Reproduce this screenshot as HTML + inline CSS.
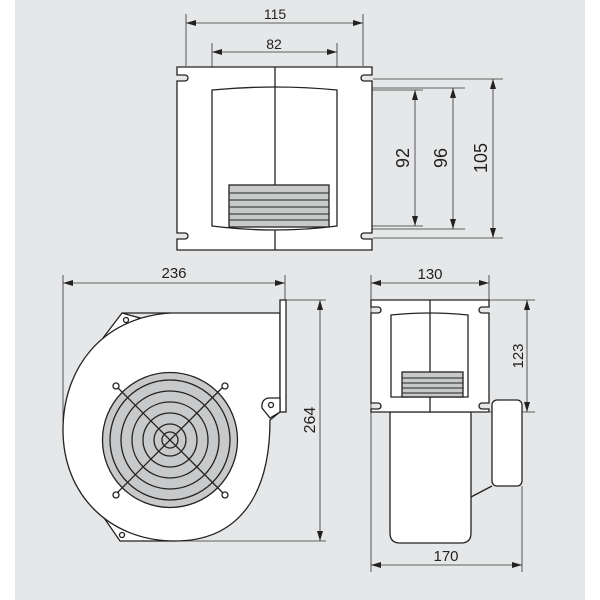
<!DOCTYPE html>
<html><head><style>html,body{margin:0;padding:0;background:#fff}svg{display:block}</style></head>
<body>
<svg width="600" height="600" viewBox="0 0 600 600" xmlns="http://www.w3.org/2000/svg" font-family="Liberation Sans, sans-serif">
<defs>
<marker id="a" viewBox="0 0 10 6" refX="10" refY="3" markerWidth="10" markerHeight="6" orient="auto-start-reverse" markerUnits="userSpaceOnUse"><path d="M0,0 L10,3 L0,6 Z" fill="#222"/></marker>
</defs>
<rect x="15" y="0" width="570" height="600" fill="#e6e7e8"/>
<g stroke="#333" stroke-width="0.8" fill="none">
<line x1="186" y1="14" x2="186" y2="66"/><line x1="363" y1="14" x2="363" y2="66"/>
<line x1="186" y1="23" x2="363" y2="23" marker-start="url(#a)" marker-end="url(#a)"/>
<line x1="212" y1="43" x2="212" y2="90"/><line x1="337" y1="43" x2="337" y2="90"/>
<line x1="212" y1="52" x2="337" y2="52" marker-start="url(#a)" marker-end="url(#a)"/>
<line x1="373" y1="79" x2="503" y2="79"/><line x1="337" y1="88" x2="465" y2="88"/><line x1="337" y1="90" x2="423" y2="90"/>
<line x1="337" y1="226" x2="423" y2="226"/><line x1="337" y1="229" x2="465" y2="229"/><line x1="373" y1="238" x2="503" y2="238"/>
<line x1="415" y1="90" x2="415" y2="226" marker-start="url(#a)" marker-end="url(#a)"/>
<line x1="453" y1="88" x2="453" y2="229" marker-start="url(#a)" marker-end="url(#a)"/>
<line x1="493" y1="79" x2="493" y2="238" marker-start="url(#a)" marker-end="url(#a)"/>
<line x1="63" y1="275" x2="63" y2="425"/><line x1="285" y1="275" x2="285" y2="300"/>
<line x1="63" y1="283" x2="285" y2="283" marker-start="url(#a)" marker-end="url(#a)"/>
<line x1="286" y1="300" x2="326" y2="300"/><line x1="175" y1="541" x2="326" y2="541"/>
<line x1="320" y1="300" x2="320" y2="541" marker-start="url(#a)" marker-end="url(#a)"/>
<line x1="371" y1="275" x2="371" y2="572"/><line x1="489" y1="275" x2="489" y2="300"/>
<line x1="371" y1="283" x2="489" y2="283" marker-start="url(#a)" marker-end="url(#a)"/>
<line x1="489" y1="300" x2="535" y2="300"/><line x1="490" y1="412" x2="535" y2="412"/>
<line x1="527" y1="300" x2="527" y2="412" marker-start="url(#a)" marker-end="url(#a)"/>
<line x1="522" y1="486" x2="522" y2="572"/>
<line x1="371" y1="565" x2="522" y2="565" marker-start="url(#a)" marker-end="url(#a)"/>
</g>
<g font-size="14" fill="#222" text-anchor="middle">
<text x="275" y="19">115</text><text x="274" y="49">82</text>
<text x="409" y="158" font-size="18" transform="rotate(-90 409 158)">92</text>
<text x="447" y="158" font-size="18" transform="rotate(-90 447 158)">96</text>
<text x="487" y="158" font-size="18" transform="rotate(-90 487 158)">105</text>
<text x="174" y="278" font-size="15">236</text>
<text x="315" y="420" font-size="16" transform="rotate(-90 315 420)">264</text>
<text x="430" y="279" font-size="15">130</text>
<text x="523" y="356" font-size="15" transform="rotate(-90 523 356)">123</text>
<text x="446" y="561" font-size="15">170</text>
</g>
<g stroke="#222" stroke-width="1.3" fill="#fff">
<path d="M177,67 H372 V75 H364 a3,3 0 0 0 0,6 H372 V233 H364 a3,3 0 0 0 0,6 H372 V250 H177 V239 H185 a3,3 0 0 0 0,-6 H177 V81 H185 a3,3 0 0 0 0,-6 H177 Z"/>
<path d="M212,90 Q244,87 275,87 Q306,87 337,90 V226 Q306,230 275,230 Q244,230 212,226 Z"/>
<line x1="275" y1="67" x2="275" y2="186"/><line x1="275" y1="230" x2="275" y2="250"/>
<rect x="229" y="185" width="100" height="42" fill="#c8c9ca"/>
<g stroke-width="1"><line x1="229" y1="193" x2="329" y2="193"/><line x1="229" y1="200" x2="329" y2="200"/><line x1="229" y1="207" x2="329" y2="207"/><line x1="229" y1="214" x2="329" y2="214"/><line x1="229" y1="220" x2="329" y2="220"/></g>
<!-- side view -->
<path d="M122,313 L103,338 L140,318 Z"/>
<path d="M100,512 L120,541 L175,541 L130,530 Z"/>
<path d="M280,313 H170 C100,318 63,370 63,430 C63,495 110,541 175,541 C235,541 270,500 270,420 L280,412 Z"/>
<line x1="122" y1="313" x2="170" y2="313"/>
<rect x="280" y="300" width="6" height="112"/>
<path d="M280,398 L268,398 Q261,400 262,408 L270,418 L280,412 Z"/>
<circle cx="271" cy="405" r="2.5"/>
<circle cx="126" cy="320" r="2.5"/><circle cx="122" cy="535" r="2.5"/>
<circle cx="170" cy="440" r="67.5" fill="#c8c9ca"/>
<g fill="none"><circle cx="170" cy="440" r="60"/><circle cx="170" cy="440" r="49"/><circle cx="170" cy="440" r="38"/><circle cx="170" cy="440" r="27"/><circle cx="170" cy="440" r="16"/><circle cx="170" cy="440" r="8"/>
<line x1="116" y1="386" x2="224" y2="494"/><line x1="224" y1="386" x2="116" y2="494"/></g>
<circle cx="116" cy="386" r="3"/><circle cx="225" cy="386" r="3"/><circle cx="116" cy="495" r="3"/><circle cx="225" cy="495" r="3"/>
<!-- front view -->
<path d="M390,412 H471 V533 Q471,543 461,543 H400 Q390,543 390,533 Z"/>
<line x1="471" y1="497" x2="492" y2="486"/>
<rect x="492" y="400" width="30" height="86" rx="5"/>
<path d="M371,300 H489 V307 H482 a3,3 0 0 0 0,6 H489 V403 H482 a3,3 0 0 0 0,6 H489 V412 H371 V409 H378 a3,3 0 0 0 0,-6 H371 V313 H378 a3,3 0 0 0 0,-6 H371 Z"/>
<path d="M391,315 Q430,311 468,315 V397 H391 Z"/>
<line x1="430" y1="300" x2="430" y2="372"/><line x1="430" y1="397" x2="430" y2="412"/>
<rect x="402" y="372" width="61" height="25" fill="#c8c9ca"/>
<g stroke-width="1"><line x1="402" y1="378" x2="463" y2="378"/><line x1="402" y1="383" x2="463" y2="383"/><line x1="402" y1="388" x2="463" y2="388"/><line x1="402" y1="393" x2="463" y2="393"/></g>
</g>
</svg>
</body></html>
